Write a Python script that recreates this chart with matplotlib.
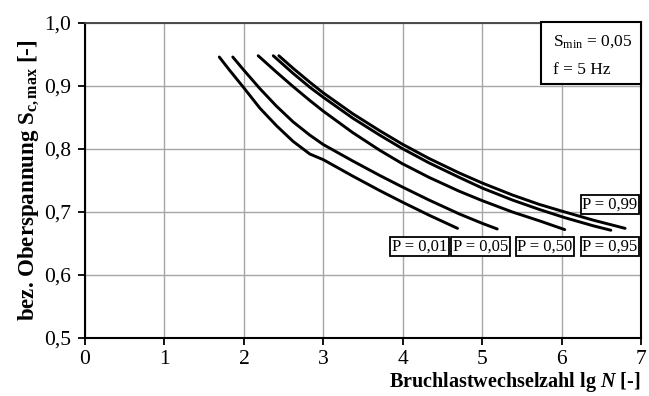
import numpy as np
import matplotlib
matplotlib.use('Agg')
import matplotlib.pyplot as plt
from matplotlib.patches import Rectangle

plt.rcParams['font.family'] = ['Liberation Serif', 'DejaVu Serif']
plt.rcParams['mathtext.fontset'] = 'custom'
plt.rcParams['mathtext.rm'] = 'Liberation Serif'
plt.rcParams['mathtext.it'] = 'Liberation Serif:italic'
plt.rcParams['mathtext.bf'] = 'Liberation Serif:bold'
plt.rcParams['mathtext.bfit'] = 'Liberation Serif:italic:bold'

# lg N vs S_c,max for each probability
lgN_001 = [1.69, 1.82, 2.00, 2.20, 2.41, 2.62, 2.83, 3.00, 3.37, 3.71, 3.99, 4.33, 4.69]
S_001 = [0.946, 0.925, 0.897, 0.865, 0.837, 0.812, 0.792, 0.783, 0.757, 0.734, 0.716, 0.695, 0.674]
lgN_005 = [1.86, 2.00, 2.20, 2.41, 2.62, 2.83, 3.00, 3.37, 3.71, 3.99, 4.33, 4.71, 5.00, 5.19]
S_005 = [0.946, 0.925, 0.896, 0.868, 0.843, 0.822, 0.807, 0.781, 0.758, 0.740, 0.719, 0.697, 0.682, 0.673]
lgN_050 = [2.18, 2.41, 2.62, 2.83, 3.00, 3.37, 3.71, 3.99, 4.33, 4.71, 5.00, 5.38, 5.72, 6.04]
S_050 = [0.948, 0.922, 0.899, 0.877, 0.860, 0.826, 0.798, 0.777, 0.755, 0.733, 0.718, 0.700, 0.686, 0.672]
lgN_095 = [2.37, 2.62, 2.83, 3.00, 3.37, 3.71, 3.99, 4.33, 4.71, 5.00, 5.38, 5.72, 6.04, 6.40, 6.62]
S_095 = [0.948, 0.920, 0.898, 0.882, 0.849, 0.822, 0.801, 0.778, 0.755, 0.738, 0.719, 0.704, 0.691, 0.678, 0.671]
lgN_099 = [2.44, 2.62, 2.83, 3.00, 3.37, 3.71, 3.99, 4.33, 4.71, 5.00, 5.38, 5.72, 6.04, 6.40, 6.80]
S_099 = [0.948, 0.928, 0.906, 0.889, 0.856, 0.829, 0.808, 0.785, 0.762, 0.746, 0.727, 0.712, 0.700, 0.687, 0.674]

curves = [(lgN_001, S_001), (lgN_005, S_005), (lgN_050, S_050),
          (lgN_095, S_095), (lgN_099, S_099)]
labels = ['P = 0,01', 'P = 0,05', 'P = 0,50', 'P = 0,95', 'P = 0,99']
label_x = [4.21, 4.98, 5.79, 6.61, 6.61]
label_y = [0.645, 0.645, 0.645, 0.645, 0.712]

xticks = [0, 1, 2, 3, 4, 5, 6, 7]
xticklabels = ['0', '1', '2', '3', '4', '5', '6', '7']
yticks = [0.5, 0.6, 0.7, 0.8, 0.9, 1.0]
yticklabels = ['0,5', '0,6', '0,7', '0,8', '0,9', '1,0']

fig = plt.figure(figsize=(6.49, 3.96), dpi=100)
ax = fig.add_axes([0.131, 0.1465, 0.8567, 0.7955])

for x, y in curves:
    ax.plot(x, y, color='black', lw=2.1, solid_capstyle='round',
            solid_joinstyle='round')

for lab, lx, ly in zip(labels, label_x, label_y):
    ax.text(lx, ly, lab, ha='center', va='center', fontsize=12,
            bbox=dict(boxstyle='square,pad=0.1', fc='white', ec='black', lw=1.3))

ax.set_xlim(0, 7)
ax.set_ylim(0.5, 1.0)
ax.set_xticks(xticks)
ax.set_xticklabels(xticklabels)
ax.set_yticks(yticks)
ax.set_yticklabels(yticklabels)
ax.tick_params(direction='out', length=5, width=1.3, labelsize=15.5, color='black')
ax.tick_params(axis='y', pad=5)
ax.grid(True, color='#a6a6a6', lw=1.0)
ax.set_axisbelow(True)

for s in ['left', 'bottom', 'right']:
    ax.spines[s].set_color('black')
    ax.spines[s].set_linewidth(1.5)
ax.spines['top'].set_color('#404040')
ax.spines['top'].set_linewidth(1.3)

ax.set_ylabel(r'bez. Oberspannung $\mathbf{S_{c,max}}$ [-]', fontsize=16.5,
              fontweight='bold', labelpad=2)
ax.set_xlabel(r'Bruchlastwechselzahl lg $\mathbfit{N}$ [-]', fontsize=14.5,
              fontweight='bold', loc='right', labelpad=1)

# info box in upper right corner
ax.add_patch(Rectangle((0.820, 0.806), 0.18, 0.198, transform=ax.transAxes,
                       fc='white', ec='black', lw=1.5, clip_on=False, zorder=5))
ax.text(0.842, 0.941, 'S$_\\mathrm{min}$ = 0,05', transform=ax.transAxes,
        ha='left', va='center', fontsize=12.5, zorder=6)
ax.text(0.842, 0.851, 'f = 5 Hz', transform=ax.transAxes,
        ha='left', va='center', fontsize=12.5, zorder=6)

fig.savefig('out.png', dpi=100)
